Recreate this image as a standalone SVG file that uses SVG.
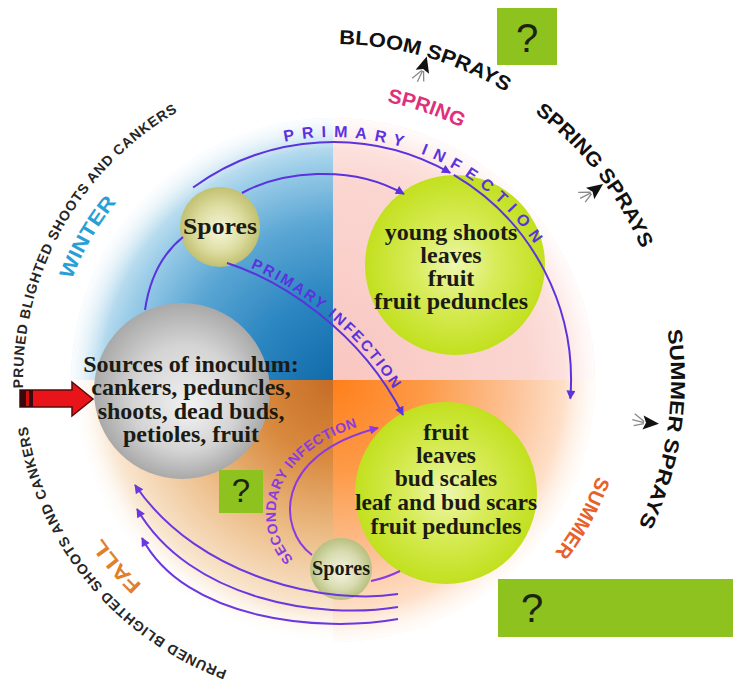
<svg xmlns="http://www.w3.org/2000/svg" width="733" height="687" viewBox="0 0 733 687">
<style>
.node{font-family:"Liberation Serif","Times New Roman",serif;font-weight:bold;fill:#1b1b14;text-anchor:middle}
.sans{font-family:"Liberation Sans",Arial,sans-serif;font-weight:bold}
.ring{font-size:14px;fill:#262626}
.spray{font-size:20px;fill:#111}
.season{font-size:20px}
.conn{fill:none;stroke:#5a32de;stroke-width:2}
.conn2{fill:none;stroke:#8a3ae0;stroke-width:2}
.conn3{fill:none;stroke:#6a38e0;stroke-width:2}
.box{fill:#8dc21f}
.q{font-family:"Liberation Sans",Arial,sans-serif;fill:#1c2410;text-anchor:middle}
</style>
<defs>
<clipPath id="disc"><circle cx="333" cy="380" r="262"/></clipPath>
<radialGradient id="gWinter" gradientUnits="userSpaceOnUse" cx="350" cy="400" r="300">
<stop offset="0" stop-color="#0a62a3"/><stop offset="0.35" stop-color="#2a85c0"/><stop offset="0.6" stop-color="#5aa6d4"/><stop offset="0.8" stop-color="#9fcfe9"/><stop offset="0.92" stop-color="#d8ecf6"/><stop offset="1" stop-color="#ffffff"/>
</radialGradient>
<radialGradient id="gSpring" gradientUnits="userSpaceOnUse" cx="333" cy="380" r="262">
<stop offset="0" stop-color="#f9c6c1"/><stop offset="0.75" stop-color="#fbd6d1"/><stop offset="1" stop-color="#fdeae7"/>
</radialGradient>
<radialGradient id="gSummer" gradientUnits="userSpaceOnUse" cx="333" cy="380" r="262">
<stop offset="0" stop-color="#ff7f1a"/><stop offset="0.35" stop-color="#fd9a48"/><stop offset="0.7" stop-color="#fcc49a"/><stop offset="1" stop-color="#fff0e4"/>
</radialGradient>
<radialGradient id="gFall" gradientUnits="userSpaceOnUse" cx="333" cy="380" r="262">
<stop offset="0" stop-color="#c66c26"/><stop offset="0.3" stop-color="#d98a3e"/><stop offset="0.6" stop-color="#ecbd88"/><stop offset="0.85" stop-color="#f8e2c8"/><stop offset="1" stop-color="#ffffff"/>
</radialGradient>
<radialGradient id="gEdge" gradientUnits="userSpaceOnUse" cx="333" cy="380" r="262">
<stop offset="0" stop-color="#fff" stop-opacity="0"/><stop offset="0.88" stop-color="#fff" stop-opacity="0"/><stop offset="1" stop-color="#fff" stop-opacity="0.85"/>
</radialGradient>
<radialGradient id="gLime" cx="0.5" cy="0.5" r="0.5" fx="0.5" fy="0.5">
<stop offset="0" stop-color="#eef7b0"/><stop offset="0.45" stop-color="#d8ec5a"/><stop offset="1" stop-color="#c2e01e"/>
</radialGradient>
<radialGradient id="gGray" cx="0.5" cy="0.5" r="0.5" fx="0.55" fy="0.6">
<stop offset="0" stop-color="#f2f2f2"/><stop offset="0.6" stop-color="#d4d4d4"/><stop offset="1" stop-color="#a9a9a9"/>
</radialGradient>
<radialGradient id="gSpore" cx="0.5" cy="0.5" r="0.5" fx="0.5" fy="0.55">
<stop offset="0" stop-color="#f6f6dc"/><stop offset="0.6" stop-color="#dcdca0"/><stop offset="1" stop-color="#c2c070"/>
</radialGradient>
<radialGradient id="gSpore2" cx="0.5" cy="0.5" r="0.5" fx="0.5" fy="0.55">
<stop offset="0" stop-color="#f4f4e2"/><stop offset="0.6" stop-color="#d8dcb0"/><stop offset="1" stop-color="#b8c080"/>
</radialGradient>
<marker id="ah" viewBox="0 0 10 10" refX="9" refY="5" markerWidth="11" markerHeight="9" markerUnits="userSpaceOnUse" orient="auto"><path d="M0,0 L10,5 L0,10 z" fill="#5a32de"/></marker>
<marker id="ah2" viewBox="0 0 10 10" refX="9" refY="5" markerWidth="11" markerHeight="9" markerUnits="userSpaceOnUse" orient="auto"><path d="M0,0 L10,5 L0,10 z" fill="#8a3ae0"/></marker>
<marker id="ah3" viewBox="0 0 10 10" refX="9" refY="5" markerWidth="11" markerHeight="9" markerUnits="userSpaceOnUse" orient="auto"><path d="M0,0 L10,5 L0,10 z" fill="#6a38e0"/></marker>
<g id="sprayArrow">
<path d="M0,-10 L7,6 L0,3 L-7,6 Z" fill="#111"/>
<path d="M-1,5 L-8,15 M0,5 L-2,17 M1,5 L4,15" stroke="#8a8a8a" stroke-width="1.3" fill="none"/>
</g>
<path id="pBloom" d="M 338.9 44 A 336 336 0 0 1 506.1 92"/>
<path id="pSpringSp" d="M 534.6 112.5 A 335 335 0 0 1 641.4 249.1"/>
<path id="pSummerSp" d="M 667.3 330 A 338 338 0 0 1 638.1 525.5"/>
<path id="pWinter" d="M 71.6 279.7 A 280 280 0 0 1 116.9 201.9"/>
<path id="pSpring" d="M 387 102.2 A 283 283 0 0 1 461.5 127.8"/>
<path id="pSummer" d="M 597.1 476.1 A 281 281 0 0 1 554.4 553"/>
<path id="pFall" d="M 142 584.8 A 280 280 0 0 1 100.9 536.6"/>
<path id="pRing1" d="M 23.1 388.1 A 310 310 0 0 1 178 111.5"/>
<path id="pRing2" d="M 227.3 670.4 A 309 309 0 0 1 27.4 425.7"/>
<path id="pPrim1" d="M 284.6 141.9 A 243 243 0 0 1 534.5 244.1"/>
<path id="pPrim2" d="M 230 260 C 283 277, 363 327, 406 412"/>
<path id="pSec" d="M 296 561 C 262 533, 258 445, 385 420"/>
</defs>

<g id="background">
<g clip-path="url(#disc)">
<rect x="71" y="118" width="262" height="262" fill="url(#gWinter)"/>
<rect x="333" y="118" width="262" height="262" fill="url(#gSpring)"/>
<rect x="333" y="380" width="262" height="262" fill="url(#gSummer)"/>
<rect x="71" y="380" width="262" height="262" fill="url(#gFall)"/>
<circle cx="333" cy="380" r="262" fill="url(#gEdge)"/>
</g>
</g>

<g id="node-sources">
<circle cx="182" cy="391" r="88" fill="url(#gGray)"/>
<text class="node" font-size="24"><tspan x="191" y="372">Sources of inoculum:</tspan><tspan x="191" y="395">cankers, peduncles,</tspan><tspan x="191" y="419">shoots, dead buds,</tspan><tspan x="191" y="442">petioles, fruit</tspan></text>
</g>
<g id="node-spores-top">
<circle cx="220" cy="227" r="40" fill="url(#gSpore)"/>
<text class="node" font-size="23" x="220" y="234" textLength="74" lengthAdjust="spacingAndGlyphs">Spores</text>
</g>
<g id="node-spring">
<circle cx="455" cy="265" r="90" fill="url(#gLime)"/>
<text class="node" font-size="24"><tspan x="451" y="240">young shoots</tspan><tspan x="451" y="263">leaves</tspan><tspan x="451" y="286">fruit</tspan><tspan x="451" y="309">fruit peduncles</tspan></text>
</g>
<g id="node-summer">
<circle cx="446" cy="493" r="91" fill="url(#gLime)"/>
<text class="node" font-size="23.5"><tspan x="446" y="440">fruit</tspan><tspan x="446" y="463">leaves</tspan><tspan x="446" y="486">bud scales</tspan><tspan x="446" y="510">leaf and bud scars</tspan><tspan x="446" y="534">fruit peduncles</tspan></text>
</g>
<g id="node-spores-bottom">
<circle cx="341" cy="569" r="31" fill="url(#gSpore2)"/>
<text class="node" font-size="20" x="341" y="575" textLength="58" lengthAdjust="spacingAndGlyphs">Spores</text>
</g>

<g id="connectors">
<path class="conn" d="M 193.1 187.5 A 238 238 0 0 1 450.2 172.9" marker-end="url(#ah)"/>
<path class="conn" d="M 453.8 174.9 A 238 238 0 0 1 570.3 398.7" marker-end="url(#ah)"/>
<path class="conn" d="M 242 193 C 280 172, 350 163, 404 194" marker-end="url(#ah)"/>
<path class="conn" d="M 183 237 Q 152 262 145 310"/>
<path class="conn" d="M 227 263 C 280 280, 360 330, 403 415" marker-end="url(#ah)"/>
<path class="conn2" d="M 312 555 C 278 530, 272 455, 378 428" marker-end="url(#ah2)"/>
<path class="conn2" d="M 371 581 Q 386 578 400 571"/>
<path class="conn3" d="M 398 594 C 330 605, 200 580, 135 485" marker-end="url(#ah3)"/>
<path class="conn3" d="M 398 607 C 320 620, 190 600, 137 509" marker-end="url(#ah3)"/>
<path class="conn3" d="M 398 619 C 320 633, 185 620, 142 538" marker-end="url(#ah3)"/>
</g>

<g id="connector-labels" class="sans">
<text font-size="16" fill="#5a32de"><textPath href="#pPrim1" textLength="286" lengthAdjust="spacing">PRIMARY INFECTION</textPath></text>
<text font-size="15" fill="#5a32de"><textPath href="#pPrim2" startOffset="22" textLength="190" lengthAdjust="spacing">PRIMARY INFECTION</textPath></text>
<text font-size="14" fill="#8a3ae0"><textPath href="#pSec" startOffset="3" textLength="178" lengthAdjust="spacing">SECONDARY INFECTION</textPath></text>
</g>

<g id="seasons" class="sans season">
<text fill="#2a9fd6"><textPath href="#pWinter" textLength="90" lengthAdjust="spacingAndGlyphs">WINTER</textPath></text>
<text fill="#e0307a"><textPath href="#pSpring" textLength="79" lengthAdjust="spacingAndGlyphs">SPRING</textPath></text>
<text fill="#e8602a"><textPath href="#pSummer" textLength="88" lengthAdjust="spacingAndGlyphs">SUMMER</textPath></text>
<text fill="#e0802a"><textPath href="#pFall" textLength="62" lengthAdjust="spacingAndGlyphs">FALL</textPath></text>
</g>

<g id="sprays" class="sans spray">
<text><textPath href="#pBloom" textLength="176" lengthAdjust="spacingAndGlyphs">BLOOM SPRAYS</textPath></text>
<text><textPath href="#pSpringSp" textLength="175" lengthAdjust="spacingAndGlyphs">SPRING SPRAYS</textPath></text>
<text><textPath href="#pSummerSp" textLength="200" lengthAdjust="spacingAndGlyphs">SUMMER SPRAYS</textPath></text>
<use href="#sprayArrow" transform="translate(424,66) rotate(16)"/>
<use href="#sprayArrow" transform="translate(595,190) rotate(54)"/>
<use href="#sprayArrow" transform="translate(649,423) rotate(95)"/>
</g>

<g id="pruned" class="sans ring">
<text><textPath href="#pRing1" textLength="332" lengthAdjust="spacing">PRUNED BLIGHTED SHOOTS AND CANKERS</textPath></text>
<text><textPath href="#pRing2" textLength="331" lengthAdjust="spacing">PRUNED BLIGHTED SHOOTS AND CANKERS</textPath></text>
</g>

<g id="red-arrow">
<path d="M 20 390 L 72 390 L 72 382 L 93 399 L 72 416 L 72 407 L 20 407 Z" fill="#e8141a" stroke="#5a0a0a" stroke-width="1.5"/>
<rect x="20" y="390" width="13" height="17" fill="#3a0808"/>
<rect x="26" y="391" width="3" height="15" fill="#d01010"/>
</g>

<g id="box-top"><rect class="box" x="497" y="8" width="60" height="57"/><text class="q" x="527" y="52" font-size="40">?</text></g>
<g id="box-mid"><rect class="box" x="219" y="470" width="44" height="43"/><text class="q" x="241" y="502" font-size="33">?</text></g>
<g id="box-bottom"><rect class="box" x="498" y="579" width="235" height="58"/><text class="q" x="532" y="622" font-size="40">?</text></g>
</svg>
